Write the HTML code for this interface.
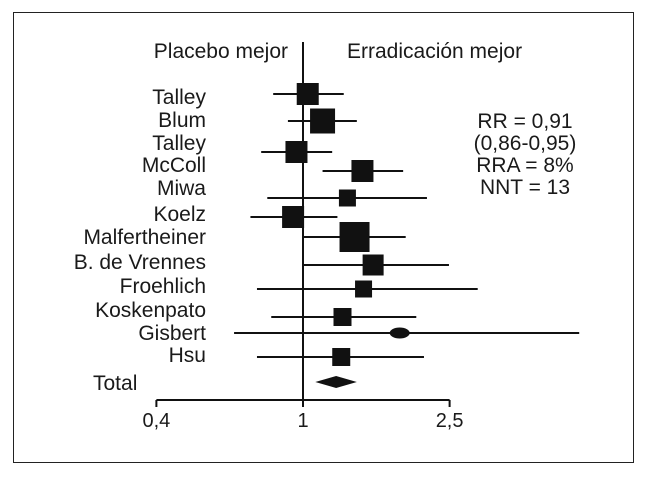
<!DOCTYPE html>
<html><head><meta charset="utf-8"><style>
body{margin:0;background:#fff;width:646px;height:473px;overflow:hidden}
svg text{font-family:"Liberation Sans",sans-serif;fill:#1a1a1a}
</style></head><body>
<svg id="c" width="646" height="473">
<rect x="13.5" y="12.5" width="620" height="450" fill="none" stroke="#222" stroke-width="1"/>
</svg>
<script>
const studies=["Talley","Blum","Talley","McColl","Miwa","Koelz","Malfertheiner","B. de Vrennes","Froehlich","Koskenpato","Gisbert","Hsu"];
const rr=[1.03,1.13,0.96,1.45,1.32,0.94,1.38,1.55,1.46,1.28,1.83,1.27];
const lo=[0.83,0.91,0.77,1.13,0.80,0.72,1.00,1.00,0.75,0.82,0.65,0.75];
const hi=[1.29,1.40,1.20,1.87,2.17,1.24,1.90,2.49,2.98,2.03,5.62,2.13];
const weight=[22,25,22,22,17,22,30,21,17,18,11,18];
const total=[1.23,1.08,1.40];
const tickVals=[0.4,1,2.5];
const tickLabels=["0,4","1","2,5"];
const svg=document.getElementById('c');
const NS='http://www.w3.org/2000/svg';
const x=v=>303+160*Math.log(v);
const rowY=i=>[94,121,152,171,198,217,237,265,289,317,333,357][i]??(94+i*24);
const labelBase=[104,127,150,172,195,221,244,269,293,317,340,362];
function mk(t,a){const e=document.createElementNS(NS,t);for(const k in a)e.setAttribute(k,a[k]);svg.appendChild(e);return e;}
let e;
e=mk('line',{x1:x(1),x2:x(1),y1:42,y2:407,stroke:'#111','stroke-width':2});


e=mk('line',{x1:x(0.4),x2:x(2.5),y1:400,y2:400,stroke:'#111','stroke-width':2});


tickVals.forEach((v,i)=>{
 e=mk('line',{x1:x(v),x2:x(v),y1:400,y2:407,stroke:'#111','stroke-width':2});
 
 
 e=mk('text',{x:x(v),y:427,'text-anchor':'middle','font-size':20});e.textContent=tickLabels[i];
 
 
});
studies.forEach((s,i)=>{
 const y=rowY(i);
 e=mk('text',{x:206,y:labelBase[i],'text-anchor':'end','font-size':21});e.textContent=s;
 
 
 e=mk('line',{x1:x(lo[i]),x2:x(hi[i]),y1:y,y2:y,stroke:'#111','stroke-width':2});
 
 
 const w=weight[i];
 if(s==="Gisbert"){
  e=mk('ellipse',{cx:x(rr[i]),cy:y,rx:10,ry:5.5,fill:'#111'});
 } else {
  e=mk('rect',{x:x(rr[i])-w/2,y:y-w/2,width:w,height:w,fill:'#111'});
 }
 
 
});
const ty=382;
e=mk('polygon',{points:`${x(total[1])},${ty} ${x(total[0])},${ty-6} ${x(total[2])},${ty} ${x(total[0])},${ty+6}`,fill:'#111'});


e=mk('text',{x:93,y:390,'font-size':21});e.textContent='Total';


e=mk('text',{x:288,y:58,'text-anchor':'end','font-size':21});e.textContent='Placebo mejor';


e=mk('text',{x:347,y:58,'font-size':21});e.textContent='Erradicación mejor';


const stats=["RR = 0,91","(0,86-0,95)","RRA = 8%","NNT = 13"];
stats.forEach((t,i)=>{
 e=mk('text',{x:525,y:128+i*22,'text-anchor':'middle','font-size':21});e.textContent=t;
 
 
});
</script>
</body></html>
